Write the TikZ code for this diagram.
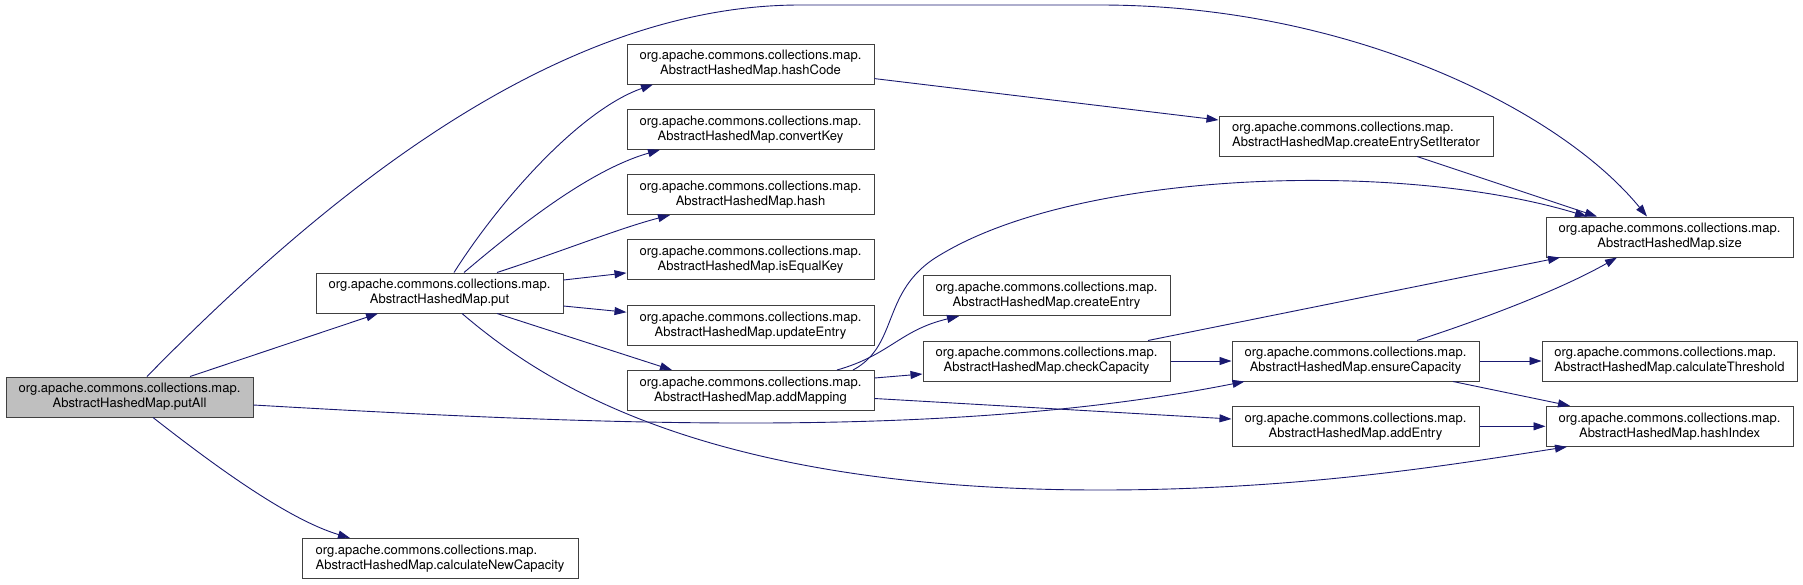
\documentclass[tikz,border=0pt]{standalone}
\usepackage{fontspec}
\setmainfont{TeX Gyre Heros}
\usetikzlibrary{arrows.meta}

\definecolor{edgeblue}{HTML}{191970}
\definecolor{rootgray}{HTML}{BFBFBF}
\definecolor{boxline}{HTML}{404040}

\tikzset{
  fn/.style={draw=boxline, line width=1pt, fill=white, inner sep=0pt,
    minimum width=247pt, minimum height=40pt, align=center,
    font=\fontsize{13pt}{15pt}\selectfont},
  fnleft/.style={fn, align=left},
  call/.style={draw=edgeblue, line width=0.9pt,
    -{Triangle[length=12pt,width=8pt,fill=edgeblue]}},
}

\begin{document}
\begin{tikzpicture}[x=1pt, y=-1pt]
  \useasboundingbox (0,0) rectangle (1803,584);

  % functions
  \node[fn, fill=rootgray] (putAll) at (129.5,397) {org.apache.commons.collections.map.\\AbstractHashedMap.putAll};
  \node[fn] (put) at (439.5,293) {org.apache.commons.collections.map.\\AbstractHashedMap.put};
  \node[fnleft, minimum width=276pt] (calcNewCap) at (440,558.5) {org.apache.commons.collections.map.\\AbstractHashedMap.calculateNewCapacity};

  \node[fn] (hashCode) at (750.5,64) {org.apache.commons.collections.map.\\AbstractHashedMap.hashCode};
  \node[fn] (convertKey) at (750.5,129.3) {org.apache.commons.collections.map.\\AbstractHashedMap.convertKey};
  \node[fn] (hash) at (750.5,194.6) {org.apache.commons.collections.map.\\AbstractHashedMap.hash};
  \node[fn] (isEqualKey) at (750.5,259.9) {org.apache.commons.collections.map.\\AbstractHashedMap.isEqualKey};
  \node[fn] (updateEntry) at (750.5,325.2) {org.apache.commons.collections.map.\\AbstractHashedMap.updateEntry};
  \node[fn] (addMapping) at (750.5,390.5) {org.apache.commons.collections.map.\\AbstractHashedMap.addMapping};

  \node[fn] (createEntry) at (1046.5,295.7) {org.apache.commons.collections.map.\\AbstractHashedMap.createEntry};
  \node[fn] (checkCapacity) at (1046.5,361) {org.apache.commons.collections.map.\\AbstractHashedMap.checkCapacity};

  \node[fnleft, minimum width=274pt] (entrySetIter) at (1356,136) {org.apache.commons.collections.map.\\AbstractHashedMap.createEntrySetIterator};
  \node[fn] (ensureCapacity) at (1355.5,361) {org.apache.commons.collections.map.\\AbstractHashedMap.ensureCapacity};
  \node[fn] (addEntry) at (1355.5,426.3) {org.apache.commons.collections.map.\\AbstractHashedMap.addEntry};

  \node[fn] (size) at (1669.5,237) {org.apache.commons.collections.map.\\AbstractHashedMap.size};
  \node[fnleft, minimum width=255pt] (calcThreshold) at (1669.5,361) {org.apache.commons.collections.map.\\AbstractHashedMap.calculateThreshold};
  \node[fn] (hashIndex) at (1669.5,426.3) {org.apache.commons.collections.map.\\AbstractHashedMap.hashIndex};

  % calls
  \draw[call] ([xshift=60.5pt]putAll.north) -- ([xshift=-61.5pt]put.south);
  \draw[call] ([xshift=17.5pt]putAll.north) .. controls (330,190) and (560,5) .. (800,5)
    -- (1100,5) .. controls (1350,5) and (1560,110) .. ([xshift=-22.5pt]size.north);
  \draw[call] ([yshift=-8pt]putAll.east) .. controls (600,425) and (950,440) .. ([xshift=13pt]ensureCapacity.south west);
  \draw[call] ([xshift=23.5pt]putAll.south) .. controls (220,470) and (290,520) .. ([xshift=-90pt]calcNewCap.north);

  \draw[call] ([xshift=14.5pt]put.north) .. controls (500,200) and (580,110) .. ([xshift=-97.5pt]hashCode.south);
  \draw[call] ([xshift=24.5pt]put.north) .. controls (520,225) and (590,170) .. ([xshift=-90.5pt]convertKey.south);
  \draw[call] ([xshift=57.5pt]put.north) .. controls (560,252) and (620,228) .. ([xshift=-80.5pt]hash.south);
  \draw[call] ([yshift=13pt]put.east) -- ([yshift=-13pt]isEqualKey.west);
  \draw[call] ([yshift=-13pt]put.east) -- ([yshift=13pt]updateEntry.west);
  \draw[call] ([xshift=57.5pt]put.south) -- ([xshift=-78.5pt]addMapping.north);
  \draw[call] ([xshift=22.5pt]put.south) .. controls (540,380) and (700,490) .. (1100,490)
    .. controls (1300,490) and (1450,465) .. ([xshift=-102.5pt]hashIndex.south);

  \draw[call] ([yshift=-14.6pt]hashCode.east) -- ([yshift=16pt]entrySetIter.west);
  \draw[call] ([xshift=61pt]entrySetIter.south) -- ([xshift=-72.5pt]size.north);

  \draw[call] ([xshift=102.5pt]addMapping.north) .. controls (900,345) and (880,290) .. (940,255)
    .. controls (1080,170) and (1400,160) .. ([xshift=-82.5pt]size.north);
  \draw[call] ([xshift=86.5pt]addMapping.north) .. controls (890,355) and (900,330) .. ([xshift=-87.5pt]createEntry.south);
  \draw[call] ([yshift=12.5pt]addMapping.east) -- ([yshift=-13pt]checkCapacity.west);
  \draw[call] ([yshift=-8pt]addMapping.east) -- ([yshift=7.3pt]addEntry.west);

  \draw[call] ([xshift=101.5pt]checkCapacity.north) -- ([xshift=-109.5pt]size.south);
  \draw[call] (checkCapacity.east) -- (ensureCapacity.west);

  \draw[call] ([xshift=61.5pt]ensureCapacity.north) .. controls (1480,320) and (1560,290) .. ([xshift=-52.5pt]size.south);
  \draw[call] (ensureCapacity.east) -- (calcThreshold.west);
  \draw[call] ([xshift=97.5pt]ensureCapacity.south) -- ([xshift=-99.5pt]hashIndex.north);
  \draw[call] (addEntry.east) -- (hashIndex.west);
\end{tikzpicture}
\end{document}
